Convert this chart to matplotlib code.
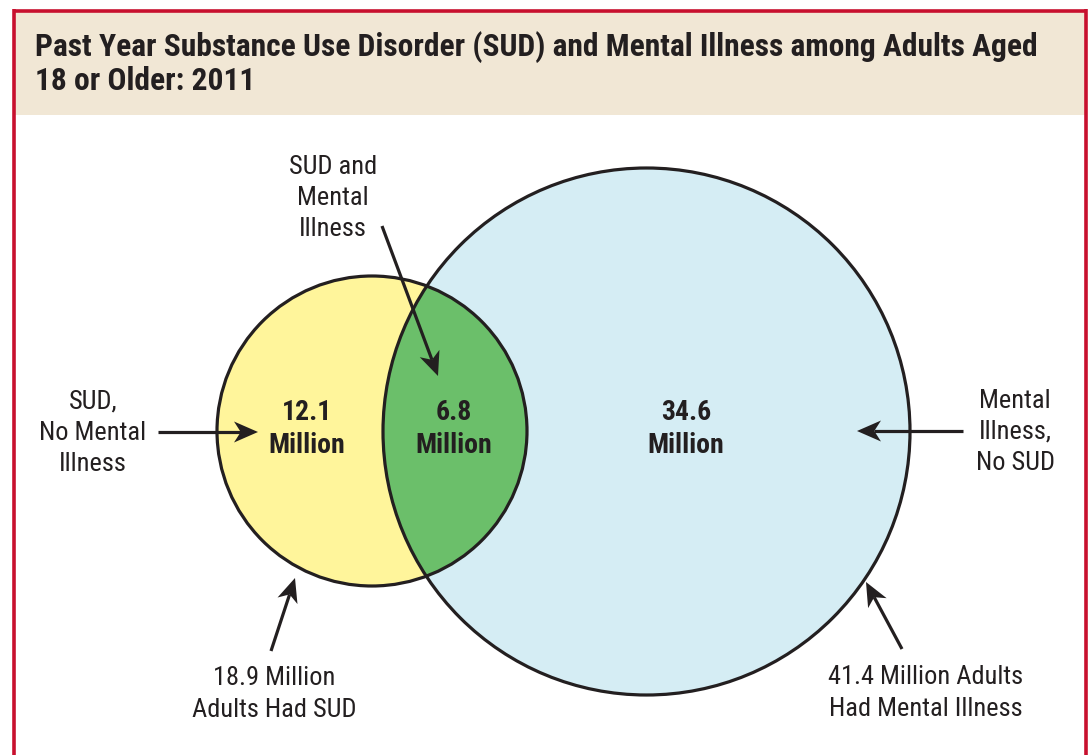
import numpy as np
import matplotlib
matplotlib.use('Agg')
import matplotlib.pyplot as plt
from matplotlib.patches import Circle, Rectangle, Polygon

# ── data ──────────────────────────────────────────────────────────────────────
title = 'Past Year Substance Use Disorder (SUD) and Mental Illness among Adults Aged\n18 or Older: 2011'
region_names = ['SUD,\nNo Mental\nIllness', 'SUD and\nMental\nIllness', 'Mental\nIllness,\nNo SUD']
region_values = [12.1, 6.8, 34.6]          # millions
set_names = ['Adults Had SUD', 'Adults\nHad Mental Illness']
set_totals = [18.9, 41.4]                  # millions

# ── style ─────────────────────────────────────────────────────────────────────
RED = '#C8102E'
BEIGE = '#F1E7D5'
YELLOW = '#FFF59B'
GREEN = '#6BBF6A'
BLUE = '#D5EDF4'
INK = '#231F20'
NARROW = ['Roboto Condensed', 'Liberation Sans Narrow', 'Arial Narrow', 'Roboto', 'DejaVu Sans']

fig = plt.figure(figsize=(10.89, 7.55), dpi=100)
ax = fig.add_axes([0, 0, 1, 1])
ax.set_xlim(0, 1089)
ax.set_ylim(755, 0)
ax.set_aspect('equal')
ax.axis('off')

# frame and title band
ax.add_patch(Rectangle((13, 11), 1073, 104, facecolor=BEIGE, edgecolor='none', zorder=0))
ax.plot([13, 1086], [10.5, 10.5], color=RED, lw=2.6, solid_capstyle='butt', zorder=5)
ax.plot([13.5, 13.5], [9, 755], color=RED, lw=2.6, solid_capstyle='butt', zorder=5)
ax.plot([1085.5, 1085.5], [9, 755], color=RED, lw=2.6, solid_capstyle='butt', zorder=5)

lines = title.split('\n')
t1 = ax.text(35, 47, lines[0], fontsize=19.5, fontweight='bold', family=NARROW,
             color=INK, va='center', ha='left')
t2 = ax.text(35, 81, lines[1], fontsize=19.5, fontweight='bold', family=NARROW,
             color=INK, va='center', ha='left')
# fit title to the width it has in the reference
fig.canvas.draw()
w = t1.get_window_extent().width
fs = 19.5 * 1002 / w
t1.set_fontsize(fs)
t2.set_fontsize(fs)

# circles (pixel geometry)
sud_c, sud_r = (372, 431), 155
mi_c, mi_r = (646.5, 431.5), 263.5

ax.add_patch(Circle(mi_c, mi_r, facecolor=BLUE, edgecolor='none', zorder=1))
ax.add_patch(Circle(sud_c, sud_r, facecolor=YELLOW, edgecolor='none', zorder=2))
green = Circle(sud_c, sud_r, facecolor=GREEN, edgecolor='none', zorder=3)
ax.add_patch(green)
green.set_clip_path(Circle(mi_c, mi_r, transform=ax.transData))
ax.add_patch(Circle(sud_c, sud_r, facecolor='none', edgecolor=INK, lw=2.3, zorder=4))
ax.add_patch(Circle(mi_c, mi_r, facecolor='none', edgecolor=INK, lw=2.3, zorder=4))

# values inside regions
value_pos = [(307, 429), (454, 429), (686, 429)]
for (x, y), v in zip(value_pos, region_values):
    ax.text(x, y, f'{v:g}\nMillion', fontsize=20, fontweight='bold', family=NARROW,
            color=INK, ha='center', va='center', linespacing=1.3, zorder=6)


def arrow(x0, y0, x1, y1, head_len=24, head_w=21):
    d = np.array([x1 - x0, y1 - y0], dtype=float)
    u = d / np.hypot(*d)
    n = np.array([-u[1], u[0]])
    tip = np.array([x1, y1], dtype=float)
    base = tip - u * head_len
    notch = tip - u * head_len * 0.72
    ax.plot([x0, notch[0]], [y0, notch[1]], color=INK, lw=2.3, zorder=7,
            solid_capstyle='butt')
    pts = [tip, base + n * head_w / 2, notch, base - n * head_w / 2]
    ax.add_patch(Polygon(pts, closed=True, facecolor=INK, edgecolor='none', zorder=7))


# region labels with arrows
lab_kw = dict(fontsize=19, family=NARROW, color=INK, ha='center', va='center',
              linespacing=1.37, zorder=6)
ax.text(93, 433, region_names[0], **lab_kw)
arrow(158, 432, 258, 432)
ax.text(333, 198, region_names[1], **lab_kw)
arrow(382, 226, 438, 376)
ax.text(1015, 432, region_names[2], **lab_kw)
arrow(963, 431, 857, 431)

# totals
ax.text(274, 694, f'{set_totals[0]:g} Million\n{set_names[0]}', **lab_kw)
arrow(271, 651, 295, 578)
ax.text(926, 693, f'{set_totals[1]:g} Million {set_names[1]}', **lab_kw)
arrow(902, 649, 866, 582)

fig.savefig('out.png', dpi=100, facecolor='white')
